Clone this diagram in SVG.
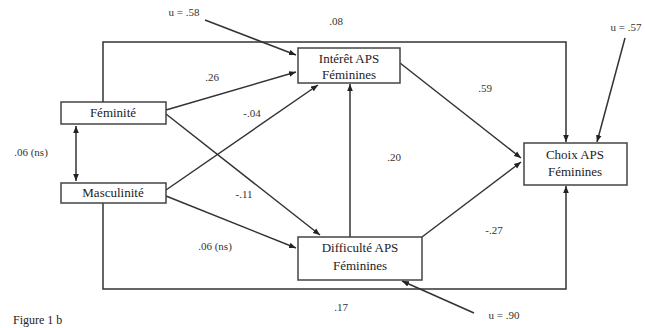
<svg xmlns="http://www.w3.org/2000/svg" width="645" height="328" viewBox="0 0 645 328">
<defs>
<marker id="ah" viewBox="0 0 10 10" refX="10" refY="5" markerWidth="7" markerHeight="7" orient="auto-start-reverse" markerUnits="userSpaceOnUse">
<path d="M0,1 L10,5 L0,9 z" fill="#222"/>
</marker>
<style>
.box{fill:#fff;stroke:#444;stroke-width:1.5}
text{font-family:'Liberation Serif','Times New Roman',serif}
.t{font-size:13px;fill:#222;text-anchor:middle}
.l{font-size:11px;fill:#333;text-anchor:middle}
.c{fill:none;stroke:#333;stroke-width:1.5}
.a{fill:none;stroke:#333;stroke-width:1.5;marker-end:url(#ah)}
</style>
</defs>
<rect width="645" height="328" fill="#fff"/>
<g id="connectors">
<polyline class="a" points="103,102 103,42 566,42 566,142"/>
<polyline class="a" points="103,203 103,289 566,289 566,186"/>
<line class="a" x1="205" y1="20" x2="296" y2="55"/>
<line class="a" x1="166" y1="110" x2="296" y2="72"/>
<line class="a" x1="166" y1="114" x2="320" y2="235"/>
<line class="a" x1="166" y1="190" x2="318" y2="85"/>
<line class="a" x1="166" y1="196" x2="296" y2="248"/>
<line class="a" x1="350" y1="237" x2="350" y2="84"/>
<line class="a" x1="400" y1="63" x2="521" y2="158"/>
<line class="a" x1="422" y1="237" x2="521" y2="162"/>
<line class="a" x1="625" y1="38" x2="597" y2="142"/>
<line class="a" x1="474" y1="313" x2="402" y2="281"/>
<line class="c" x1="76" y1="126" x2="76" y2="181" marker-start="url(#ah)" marker-end="url(#ah)"/>
</g>
<g id="interet">
<rect class="box" x="298" y="48" width="102" height="35"/>
<text class="t" x="349" y="63">Intérêt APS</text>
<text class="t" x="349" y="79">Féminines</text>
</g>
<g id="feminite">
<rect class="box" x="61" y="102" width="105" height="22"/>
<text class="t" x="113" y="117">Féminité</text>
</g>
<g id="masculinite">
<rect class="box" x="61" y="183" width="105" height="20"/>
<text class="t" x="113" y="197">Masculinité</text>
</g>
<g id="choix">
<rect class="box" x="524" y="143" width="103" height="42"/>
<text class="t" x="575" y="159">Choix APS</text>
<text class="t" x="575" y="176">Féminines</text>
</g>
<g id="difficulte">
<rect class="box" x="298" y="237" width="124" height="43"/>
<text class="t" x="360" y="252">Difficulté APS</text>
<text class="t" x="360" y="270">Féminines</text>
</g>
<g id="labels">
<text class="l" x="184" y="16">u = .58</text>
<text class="l" x="336" y="25">.08</text>
<text class="l" x="626" y="31">u = .57</text>
<text class="l" x="212" y="81">.26</text>
<text class="l" x="252" y="117">-.04</text>
<text class="l" x="485" y="92">.59</text>
<text class="l" x="31" y="156">.06 (ns)</text>
<text class="l" x="244" y="198">-.11</text>
<text class="l" x="394" y="161">.20</text>
<text class="l" x="215" y="250">.06 (ns)</text>
<text class="l" x="494" y="234">-.27</text>
<text class="l" x="341" y="311">.17</text>
<text class="l" x="504" y="319">u = .90</text>
<text x="13" y="324" style="font-size:12px;fill:#222">Figure 1 b</text>
</g>
</svg>
